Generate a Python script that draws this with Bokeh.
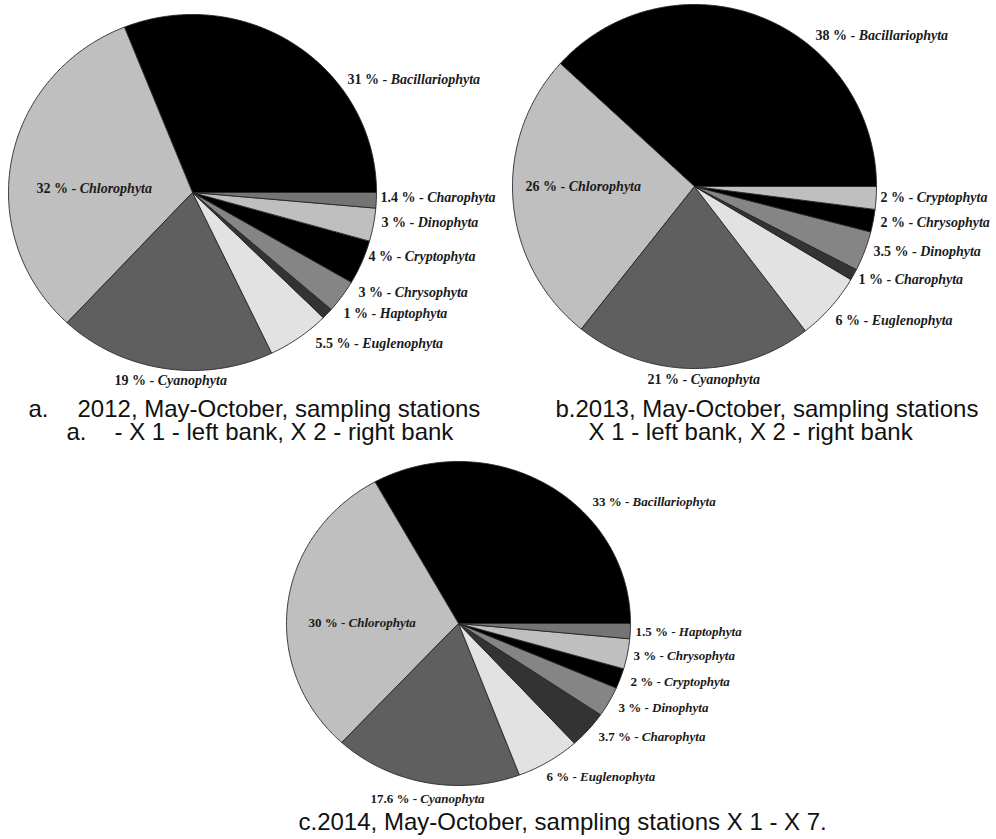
import numpy as np
from bokeh.plotting import figure
from bokeh.models import Range1d, ColumnDataSource
from bokeh.core.properties import value
from bokeh.embed import file_html
from bokeh.resources import INLINE

# ---------------- data ----------------
names_2012 = ["Bacillariophyta", "Chlorophyta", "Cyanophyta", "Euglenophyta", "Haptophyta",
              "Chrysophyta", "Cryptophyta", "Dinophyta", "Charophyta"]
vals_2012 = [31, 32, 19, 5.5, 1, 3, 4, 3, 1.4]

names_2013 = ["Bacillariophyta", "Chlorophyta", "Cyanophyta", "Euglenophyta", "Charophyta",
              "Dinophyta", "Chrysophyta", "Cryptophyta"]
vals_2013 = [38, 26, 21, 6, 1, 3.5, 2, 2]

names_2014 = ["Bacillariophyta", "Chlorophyta", "Cyanophyta", "Euglenophyta", "Charophyta",
              "Dinophyta", "Cryptophyta", "Chrysophyta", "Haptophyta"]
vals_2014 = [33, 30, 17.6, 6, 3.7, 3, 2, 3, 1.5]

caption_a1 = ["a.", "2012, May-October, sampling stations"]
caption_a2 = ["a.", "- X 1 - left bank, X 2 - right bank"]
caption_b1 = "b.2013, May-October, sampling stations"
caption_b2 = "X 1 - left bank, X 2 - right bank"
caption_c = "c.2014, May-October, sampling stations X 1 - X 7."

# ---------------- layout / style ----------------
W, H = 996, 839
slice_colors = ["#000000", "#bfbfbf", "#5f5f5f", "#e2e2e2", "#333333",
                "#858585", "#000000", "#bfbfbf", "#747474"]

pies = [
    dict(names=names_2012, vals=vals_2012, cx=192, cy=192, rx=184, ry=178, fs=14,
         pos=[(347, 79), (36, 188), (114, 380), (315, 343), (343, 313),
              (358, 292), (368, 256), (381, 222), (380, 197)]),
    dict(names=names_2013, vals=vals_2013, cx=694, cy=186, rx=182, ry=182, fs=14,
         pos=[(815, 35), (525, 186), (647, 379), (835, 320), (858, 279),
              (873, 251), (880, 222), (880, 197)]),
    dict(names=names_2014, vals=vals_2014, cx=458, cy=623, rx=172, ry=162, fs=13,
         pos=[(592, 501), (308, 622), (370, 798), (546, 776), (598, 736),
              (618, 707), (630, 681), (633, 655), (635, 631)]),
]

# Times (Liberation Serif) bold advance widths, per 1000 em
TB = {str(d): 500 for d in range(10)}
TB.update({".": 250, " ": 250, "%": 1000, "-": 333})


def tb_width(s, fs):
    return sum(TB.get(ch, 500) for ch in s) * fs / 1000.0


p = figure(width=W, height=H, x_range=Range1d(0, W), y_range=Range1d(H, 0),
           x_axis_type=None, y_axis_type=None, toolbar_location=None,
           output_backend="svg", min_border=0)
p.outline_line_color = None
p.grid.visible = False
p.background_fill_color = "white"
p.border_fill_color = "white"

for pie in pies:
    vals = np.array(pie["vals"], dtype=float)
    frac = vals / vals.sum()
    edges = np.concatenate([[0.0], np.cumsum(frac)]) * 2 * np.pi
    xs, ys = [], []
    for a0, a1 in zip(edges[:-1], edges[1:]):
        t = np.linspace(a0, a1, max(3, int((a1 - a0) / 0.01)))
        xs.append(list(np.concatenate([[pie["cx"]], pie["cx"] + pie["rx"] * np.cos(t)])))
        ys.append(list(np.concatenate([[pie["cy"]], pie["cy"] - pie["ry"] * np.sin(t)])))
    src = ColumnDataSource(dict(xs=xs, ys=ys, color=slice_colors[:len(vals)]))
    p.patches("xs", "ys", source=src, fill_color="color", line_color="#262626",
              line_width=0.9)

    fs = pie["fs"]
    nums = [f"{v:g} % -" for v in pie["vals"]]
    ax = [x + tb_width(n, fs) for n, (x, y) in zip(nums, pie["pos"])]
    ly = [y for (x, y) in pie["pos"]]
    nsrc = ColumnDataSource(dict(x=ax, y=ly, t=nums))
    p.text("x", "y", text="t", source=nsrc, text_align="right", text_baseline="middle",
           text_font=value("Liberation Serif"), text_font_style="bold",
           text_font_size=f"{fs}px", text_color="#1a1a1a")
    msrc = ColumnDataSource(dict(x=[a + fs * 0.25 for a in ax], y=ly, t=pie["names"]))
    p.text("x", "y", text="t", source=msrc, text_align="left", text_baseline="middle",
           text_font=value("Liberation Serif"), text_font_style="bold italic",
           text_font_size=f"{fs}px", text_color="#1a1a1a")

cap_font = value("Liberation Sans")
cap_fs = "24px"
csrc = ColumnDataSource(dict(
    x=[28, 77, 66, 114, 555, 588, 298],
    y=[408, 408, 431, 431, 408, 431, 821],
    t=[caption_a1[0], caption_a1[1], caption_a2[0], caption_a2[1],
       caption_b1, caption_b2, caption_c]))
p.text("x", "y", text="t", source=csrc, text_align="left", text_baseline="middle",
       text_font=cap_font, text_font_size=cap_fs, text_color="#111111")

open("out.html", "w").write(file_html(p, INLINE))
